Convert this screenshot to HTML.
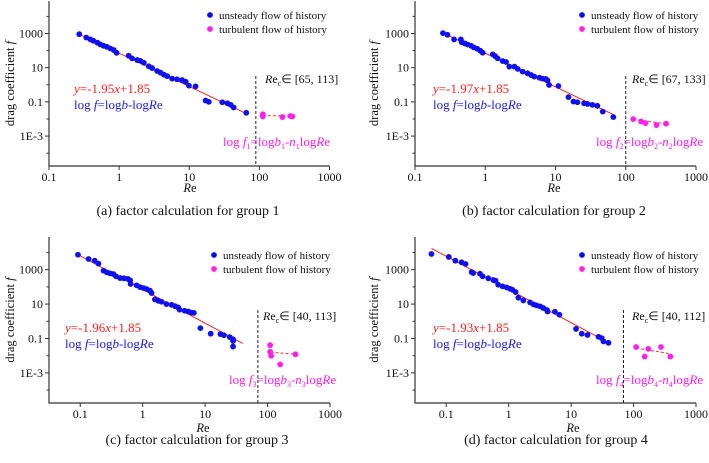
<!DOCTYPE html>
<html><head><meta charset="utf-8"><style>
html,body{margin:0;padding:0;background:#fff;}
svg, svg text{font-family:"Liberation Serif","Times New Roman",serif;}
</style></head><body>
<svg id="chart" width="709" height="458" viewBox="0 0 709 458" xmlns="http://www.w3.org/2000/svg" font-family="Liberation Serif, serif"></svg>
<script>
// ---- data (Re, f) for each group ----
const reA=[0.27,0.34,0.39,0.43,0.49,0.54,0.60,0.67,0.75,0.84,0.92,1.37,1.53,1.81,2.02,2.25,2.65,2.96,3.49,3.9,4.35,4.85,5.7,6.7,7.9,8.9,9.9,12.3,17.1,19,29.6,35,39,43,65];
const fA=[910,580,450,375,290,230,190,166,133,107,74,50,35,28,25,19.5,12,9.5,6.4,5.1,3.9,3.2,2.3,2.1,1.9,1.5,0.89,0.81,0.12,0.10,0.095,0.083,0.067,0.047,0.023];
const reTA=[112,112,213,275,295];
const fTA=[0.019,0.014,0.013,0.015,0.014];

const reB=[0.25,0.29,0.36,0.45,0.46,0.51,0.56,0.63,0.69,0.77,0.85,0.92,1.28,1.38,1.50,1.77,1.98,2.2,2.6,2.9,3.4,4.0,4.5,5.0,5.9,6.5,7.3,7.7,8.1,11,15.3,18,20.5,25.5,28.5,33.5,39.4,47,66.5];
const fB=[1050,840,450,450,315,262,228,190,152,128,98,75,60,48,35,24.5,21.5,11.5,11.5,8.5,5.9,4.7,3.7,3.0,2.6,2.3,2.2,1.8,0.98,0.85,0.19,0.105,0.095,0.083,0.076,0.067,0.059,0.027,0.013];
const reTB=[128,166,191,274,375];
const fTB=[0.0098,0.0071,0.0057,0.0044,0.0053];

const reC=[0.092,0.136,0.17,0.196,0.236,0.267,0.30,0.34,0.375,0.435,0.50,0.58,0.63,0.64,0.80,0.91,1.03,1.16,1.31,1.39,1.57,1.78,2.0,2.4,2.9,3.3,3.7,3.9,4.7,5.4,6.0,6.6,8.4,12.3,17.6,20,24.8,28,28,28];
const fC=[7400,4200,3340,2240,880,700,610,560,410,325,315,290,240,148,123,97,85,74,60,44,18.6,15.5,13.7,10,9.1,7.6,6.4,4.7,4.1,3.7,3.2,3.1,0.40,0.19,0.18,0.155,0.12,0.09,0.072,0.034];
const reTC=[110,110,114,159,280];
const fTC=[0.041,0.017,0.010,0.0031,0.012];

const reD=[0.058,0.11,0.14,0.176,0.204,0.255,0.27,0.347,0.383,0.472,0.568,0.618,0.68,0.80,0.93,1.05,1.15,1.29,1.43,1.72,2.2,2.5,2.8,3.2,3.6,4.1,4.2,5.5,6.5,12,14.8,18.3,27.5,31,33,39.7];
const fD=[8200,5500,3340,2680,2140,730,640,580,410,315,250,228,133,107,93,78,68,50,23.4,16.3,12.5,9.6,8.4,7.3,5.9,4.5,3.7,3.6,2.4,0.36,0.19,0.16,0.125,0.105,0.067,0.056];
const reTD=[110,151,172,275,388];
const fTD=[0.032,0.0089,0.025,0.032,0.0089];

const slopes=[-1.95,-1.97,-1.96,-1.93];
const intercepts=[1.85,1.85,1.85,1.85];
const fitStart=[0.27,0.25,0.092,0.058];
const fitEnd=[65,66,40,40];
const turbFitRe=[[112,295],[128,375],[112,280],[110,388]];
const turbFitF=[[0.016,0.0145],[0.0098,0.0052],[0.016,0.012],[0.028,0.013]];
const recLow=[65,67,40,40];
const recHigh=[113,133,113,112];
const vline=[89,100,70,69];
const xTicks=[0.1,1,10,100,1000];
const xTickLabels=["0.1","1","10","100","1000"];
const yTicks=[1000,10,0.1,0.001];
const yTickLabels=["1000","10","0.1","1E-3"];
const yMinor=[10000,100,1,0.01,0.0001];

const NS="http://www.w3.org/2000/svg";
const FONT='"Liberation Serif", serif';
const svg=document.getElementById('chart');
function mk(tag,attrs,parent){const e=document.createElementNS(NS,tag);for(const k in attrs)e.setAttribute(k,attrs[k]);if(tag==='text')e.setAttribute('font-family',FONT);(parent||svg).appendChild(e);return e;}

const panels=[
 {id:'a',re:reA,f:fA,rt:reTA,ft:fTA,L:49,R:329.5,T:1,B:166,xmin:-1,legX:210,legY:15,recX:265,recY:83,eqX:74,eqY:93,pkX:223,pkY:146,ytX:14,reX:190,reY:192,capX:188,capY:215,vTop:76,label:'(a) factor calculation for group 1',sub:'1'},
 {id:'b',re:reB,f:fB,rt:reTB,ft:fTB,L:415,R:696,T:1,B:166,xmin:-1,legX:582,legY:15,recX:632,recY:83,eqX:433,eqY:93,pkX:596,pkY:146,ytX:378,reX:554,reY:192,capX:554,capY:215,vTop:76,label:'(b) factor calculation for group 2',sub:'2'},
 {id:'c',re:reC,f:fC,rt:reTC,ft:fTC,L:49,R:330,T:237,B:403,xmin:-1.5,legX:214,legY:255,recX:263,recY:320,eqX:65,eqY:332,pkX:229,pkY:384,ytX:14,reX:203,reY:432,capX:197,capY:444,vTop:310,label:'(c) factor calculation for group 3',sub:'3'},
 {id:'d',re:reD,f:fD,rt:reTD,ft:fTD,L:415,R:696,T:237,B:403,xmin:-1.5,legX:582,legY:255,recX:632,recY:320,eqX:433,eqY:332,pkX:596,pkY:384,ytX:378,reX:573,reY:432,capX:556,capY:444,vTop:310,label:'(d) factor calculation for group 4',sub:'4'}
];
const YMIN=-4.75,YMAX=4.9;

panels.forEach((p,i)=>{
 const g=mk('g',{});
 
 
 const xs=v=>p.L+(Math.log10(v)-p.xmin)/(3-p.xmin)*(p.R-p.L);
 const ys=v=>p.B-(Math.log10(v)-YMIN)/(YMAX-YMIN)*(p.B-p.T);
 const ax=mk('path',{d:`M${p.L},${p.T} L${p.L},${p.B} L${p.R},${p.B}`,stroke:'#333',fill:'none','stroke-width':1.2},g);
 
 
 xTicks.forEach((t,k)=>{
  const x=xs(t);
  if(x<p.L-0.5)return;
  mk('line',{x1:x,x2:x,y1:p.B,y2:p.B+4,stroke:'#333'},g);
  const tl=mk('text',{x:x,y:p.B+15,'font-size':12,'text-anchor':'middle',fill:'#111'},g);
  tl.textContent=xTickLabels[k];
  
  
 });
 yTicks.forEach((t,k)=>{
  const y=ys(t);
  mk('line',{x1:p.L-4,x2:p.L,y1:y,y2:y,stroke:'#333'},g);
  const tl=mk('text',{x:p.L-6,y:y+4,'font-size':12,'text-anchor':'end',fill:'#111'},g);
  tl.textContent=yTickLabels[k];
  
  
 });
 yMinor.forEach(t=>{const y=ys(t);mk('line',{x1:p.L-2.5,x2:p.L,y1:y,y2:y,stroke:'#333'},g);});
 const yt=mk('text',{x:0,y:0,'font-size':12.5,'text-anchor':'middle',transform:`translate(${p.ytX},${(p.T+p.B)/2}) rotate(-90)`,fill:'#111'},g);
 yt.innerHTML='drag coefficient <tspan font-style="italic">f</tspan>';
 
 
 const xt=mk('text',{x:p.reX,y:p.reY,'font-size':12.5,'text-anchor':'middle',fill:'#111'},g);
 xt.innerHTML='<tspan font-style="italic">R</tspan>e';
 
 
 const cap=mk('text',{x:p.capX,y:p.capY,'font-size':14,'text-anchor':'middle',fill:'#111'},g);
 cap.textContent=p.label;
 
 
 const vl=mk('line',{x1:xs(vline[i]),x2:xs(vline[i]),y1:p.vTop,y2:p.B,stroke:'#222','stroke-dasharray':'3,2','stroke-width':1},g);
 
 
 const x0=Math.log10(fitStart[i]),x1=Math.log10(fitEnd[i]);
 const fl=mk('line',{x1:xs(fitStart[i]),y1:ys(Math.pow(10,slopes[i]*x0+intercepts[i])),x2:xs(fitEnd[i]),y2:ys(Math.pow(10,slopes[i]*x1+intercepts[i])),stroke:'#ff2020','stroke-width':1},g);
 
 
 p.re.forEach((r,k)=>{
  const c=mk('circle',{cx:xs(r),cy:ys(p.f[k]),r:2.9,fill:'#1010ee'},g);
  
  
 });
 const tf=mk('line',{x1:xs(turbFitRe[i][0]),y1:ys(turbFitF[i][0]),x2:xs(turbFitRe[i][1]),y2:ys(turbFitF[i][1]),stroke:'#ff3030','stroke-dasharray':'3,2','stroke-width':1},g);
 
 
 p.rt.forEach((r,k)=>{
  const c=mk('circle',{cx:xs(r),cy:ys(p.ft[k]),r:2.9,fill:'#ff20ee'},g);
  
  
 });
 const l1=mk('circle',{cx:p.legX,cy:p.legY,r:2.9,fill:'#1010ee'},g);
 
 
 const lt1=mk('text',{x:p.legX+9,y:p.legY+4,'font-size':11,fill:'#111'},g);
 lt1.textContent='unsteady flow of history';
 
 
 const l2=mk('circle',{cx:p.legX,cy:p.legY+14,r:2.9,fill:'#ff20ee'},g);
 
 
 const lt2=mk('text',{x:p.legX+9,y:p.legY+18,'font-size':11,fill:'#111'},g);
 lt2.textContent='turbulent flow of history';
 
 
 const rc=mk('text',{x:p.recX,y:p.recY,'font-size':12,fill:'#111'},g);
 rc.innerHTML=`<tspan font-style="italic">R</tspan>e<tspan font-size="8" dy="3">c</tspan><tspan dy="-3">∈ [${recLow[i]}, ${recHigh[i]}]</tspan>`;
 
 
 const eq=mk('text',{x:p.eqX,y:p.eqY,'font-size':13,fill:'#ff2020'},g);
 eq.innerHTML=`<tspan font-style="italic">y</tspan>=${slopes[i].toFixed(2)}<tspan font-style="italic">x</tspan>+${intercepts[i].toFixed(2)}`;
 
 
 const bl=mk('text',{x:p.eqX,y:p.eqY+16,'font-size':13,fill:'#1a1aee'},g);
 bl.innerHTML='log <tspan font-style="italic">f</tspan>=log<tspan font-style="italic">b</tspan>-log<tspan font-style="italic">R</tspan>e';
 
 
 const pk=mk('text',{x:p.pkX,y:p.pkY,'font-size':13,fill:'#ff20ee'},g);
 pk.innerHTML=`log <tspan font-style="italic">f</tspan><tspan font-size="8" dy="3">${p.sub}</tspan><tspan dy="-3">=log</tspan><tspan font-style="italic">b</tspan><tspan font-size="8" dy="3">${p.sub}</tspan><tspan dy="-3">-</tspan><tspan font-style="italic">n</tspan><tspan font-size="8" dy="3">${p.sub}</tspan><tspan dy="-3">log</tspan><tspan font-style="italic">R</tspan>e`;
 
 
});
</script>
</body></html>
